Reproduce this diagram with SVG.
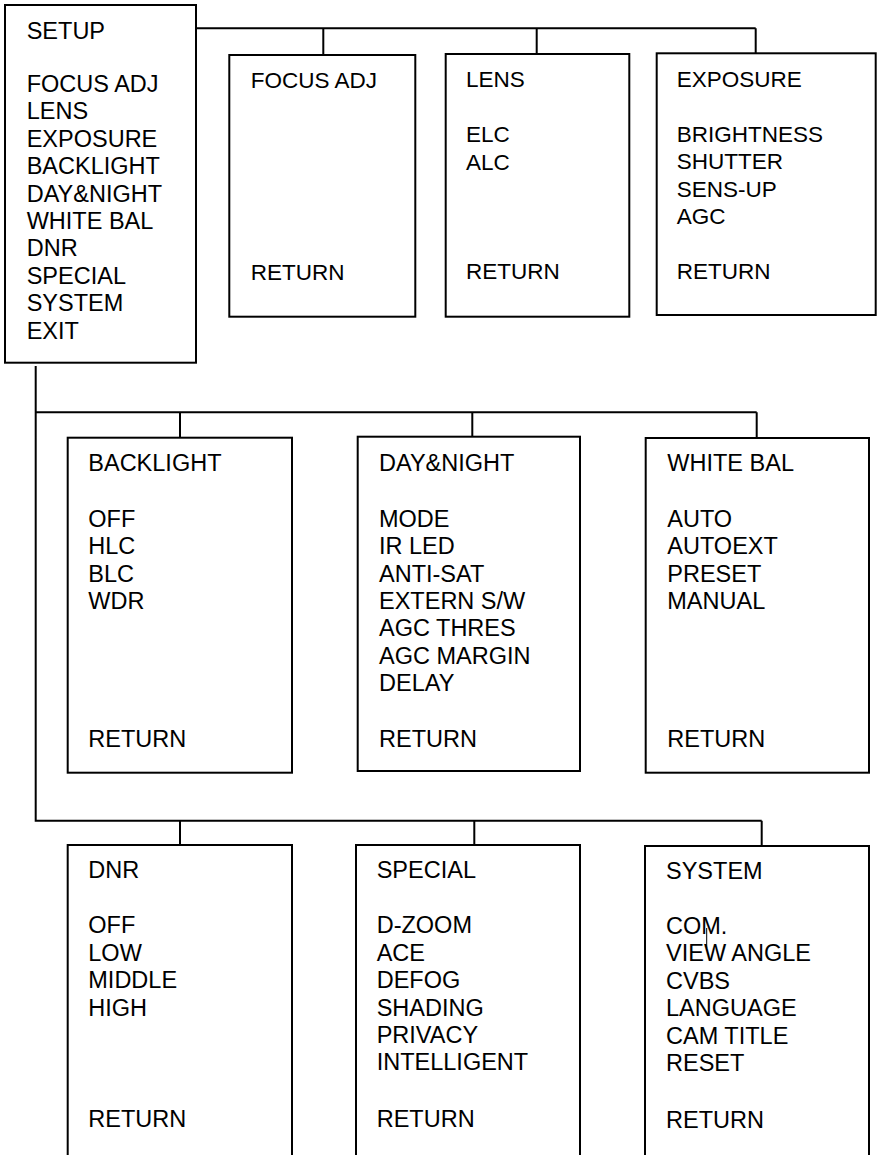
<svg xmlns="http://www.w3.org/2000/svg" width="881" height="1155" viewBox="0 0 881 1155">
<style>
.box{fill:#fff;stroke:#000;stroke-width:2}
.con{fill:none;stroke:#000;stroke-width:2}
text{font-family:"Liberation Sans",Arial,sans-serif;font-size:23.5px;fill:#000}
.sm text{font-size:22.5px}
</style>
<rect width="881" height="1155" fill="#fff"/>
<g id="connectors">
<path class="con" d="M196,28.3H755.7M323.3,28.3V55M536.7,28.3V54M755.7,28.3V53.3"/>
<path class="con" d="M35.7,366V820.7H761.7M35.7,412.3H756.7M180,412.3V437.7M472.3,412.3V436.7M756.7,412.3V438M180,820.7V845M474.3,820.7V845M761.7,820.7V846"/>
</g>
<g id="setup">
<rect class="box" x="5" y="5" width="191" height="357.7"/>
<text x="26.7" y="39.3">SETUP</text>
<text x="26.7" y="92">FOCUS ADJ</text>
<text x="26.7" y="119.4">LENS</text>
<text x="26.7" y="146.8">EXPOSURE</text>
<text x="26.7" y="174.2">BACKLIGHT</text>
<text x="26.7" y="201.6">DAY&amp;NIGHT</text>
<text x="26.7" y="229">WHITE BAL</text>
<text x="26.7" y="256.4">DNR</text>
<text x="26.7" y="283.8">SPECIAL</text>
<text x="26.7" y="311.2">SYSTEM</text>
<text x="26.7" y="338.6">EXIT</text>
</g>
<g id="focus-adj" class="sm">
<rect class="box" x="229.3" y="55" width="186" height="261.7"/>
<text x="250.7" y="88">FOCUS ADJ</text>
<text x="250.7" y="279.5">RETURN</text>
</g>
<g id="lens" class="sm">
<rect class="box" x="445.7" y="54" width="183.6" height="262.7"/>
<text x="466" y="87.3">LENS</text>
<text x="466" y="142.3">ELC</text>
<text x="466" y="169.7">ALC</text>
<text x="466" y="279.3">RETURN</text>
</g>
<g id="exposure" class="sm">
<rect class="box" x="656.7" y="53.3" width="219" height="261.7"/>
<text x="676.7" y="87.3">EXPOSURE</text>
<text x="676.7" y="141.9">BRIGHTNESS</text>
<text x="676.7" y="169.3">SHUTTER</text>
<text x="676.7" y="196.7">SENS-UP</text>
<text x="676.7" y="224.1">AGC</text>
<text x="676.7" y="279.3">RETURN</text>
</g>
<g id="backlight">
<rect class="box" x="67.7" y="437.7" width="224.3" height="335"/>
<text x="88.3" y="470.7">BACKLIGHT</text>
<text x="88.3" y="526.7">OFF</text>
<text x="88.3" y="554.1">HLC</text>
<text x="88.3" y="581.5">BLC</text>
<text x="88.3" y="608.9">WDR</text>
<text x="88.3" y="746.7">RETURN</text>
</g>
<g id="daynight">
<rect class="box" x="357.7" y="436.7" width="222.3" height="334.3"/>
<text x="379" y="470.7">DAY&amp;NIGHT</text>
<text x="379" y="526.7">MODE</text>
<text x="379" y="554.1">IR LED</text>
<text x="379" y="581.5">ANTI-SAT</text>
<text x="379" y="608.9">EXTERN S/W</text>
<text x="379" y="636.3">AGC THRES</text>
<text x="379" y="663.7">AGC MARGIN</text>
<text x="379" y="691.1">DELAY</text>
<text x="379" y="746.7">RETURN</text>
</g>
<g id="whitebal">
<rect class="box" x="645.7" y="438" width="223.3" height="334.7"/>
<text x="667.3" y="470.7">WHITE BAL</text>
<text x="667.3" y="526.7">AUTO</text>
<text x="667.3" y="554.1">AUTOEXT</text>
<text x="667.3" y="581.5">PRESET</text>
<text x="667.3" y="608.9">MANUAL</text>
<text x="667.3" y="746.7">RETURN</text>
</g>
<g id="dnr">
<path class="con" d="M67.7,1160V845H292V1160"/>
<text x="88.3" y="878.3">DNR</text>
<text x="88.3" y="933.3">OFF</text>
<text x="88.3" y="960.7">LOW</text>
<text x="88.3" y="988.1">MIDDLE</text>
<text x="88.3" y="1015.5">HIGH</text>
<text x="88.3" y="1126.7">RETURN</text>
</g>
<g id="special">
<path class="con" d="M356,1160V845H580V1160"/>
<text x="376.7" y="878.3">SPECIAL</text>
<text x="376.7" y="933.3">D-ZOOM</text>
<text x="376.7" y="960.7">ACE</text>
<text x="376.7" y="988.1">DEFOG</text>
<text x="376.7" y="1015.5">SHADING</text>
<text x="376.7" y="1042.9">PRIVACY</text>
<text x="376.7" y="1070.3">INTELLIGENT</text>
<text x="376.7" y="1126.7">RETURN</text>
</g>
<g id="system">
<path class="con" d="M645,1160V846H869V1160"/>
<text x="666" y="879">SYSTEM</text>
<text x="666" y="934">COM.</text>
<text x="666" y="961.4">VIEW ANGLE</text>
<text x="666" y="988.8">CVBS</text>
<text x="666" y="1016.2">LANGUAGE</text>
<text x="666" y="1043.6">CAM TITLE</text>
<text x="666" y="1071">RESET</text>
<text x="666" y="1127.7">RETURN</text>
<path d="M706.7,928V948" stroke="#000" stroke-width="1"/>
</g>
</svg>
